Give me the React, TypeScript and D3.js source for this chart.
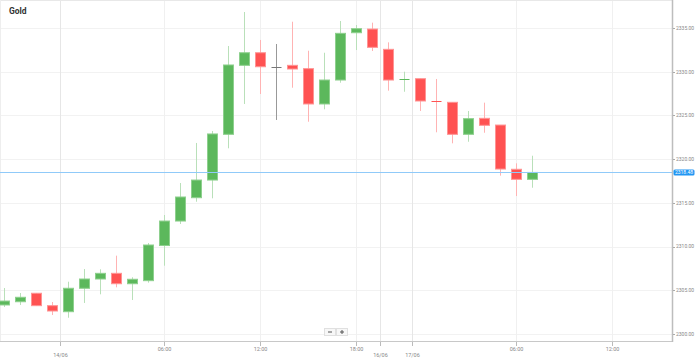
import React from "react";
import * as d3 from "d3";

const title = "Gold";
const opens = [2303.32, 2303.69, 2304.66, 2303.24, 2302.55, 2305.23, 2306.29, 2306.94, 2305.75, 2306.10, 2310.12, 2312.92, 2315.59, 2317.61, 2322.84, 2330.73, 2332.17, 2330.50, 2330.73, 2330.35, 2326.31, 2329.05, 2334.46, 2334.88, 2332.56, 2329.10, 2329.20, 2326.65, 2326.50, 2322.84, 2324.67, 2323.90, 2318.84, 2317.69];
const highs = [2305.26, 2304.69, 2304.69, 2303.66, 2305.98, 2307.43, 2307.40, 2308.96, 2306.49, 2310.41, 2313.61, 2317.27, 2321.85, 2323.22, 2332.94, 2336.83, 2333.63, 2333.17, 2335.72, 2332.40, 2332.17, 2335.80, 2335.34, 2335.61, 2333.36, 2330.00, 2329.20, 2329.17, 2326.50, 2325.51, 2326.46, 2323.90, 2319.52, 2320.39];
const lows = [2303.09, 2303.32, 2303.20, 2302.17, 2301.86, 2303.55, 2304.54, 2305.34, 2303.89, 2305.87, 2307.81, 2312.58, 2315.13, 2315.52, 2321.24, 2326.31, 2327.45, 2324.48, 2328.17, 2324.28, 2325.70, 2328.74, 2332.48, 2332.37, 2327.83, 2327.71, 2325.51, 2323.07, 2321.81, 2321.99, 2323.02, 2318.11, 2315.78, 2316.73];
const closes = [2303.77, 2304.20, 2303.24, 2302.63, 2305.23, 2306.29, 2306.94, 2305.75, 2306.26, 2310.18, 2312.92, 2315.67, 2317.61, 2322.88, 2330.77, 2332.17, 2330.57, 2330.50, 2330.31, 2326.31, 2329.05, 2334.39, 2334.92, 2332.79, 2329.05, 2329.13, 2326.65, 2326.57, 2322.84, 2324.63, 2323.87, 2318.87, 2317.69, 2318.48];

const yTicks = [2300, 2305, 2310, 2315, 2320, 2325, 2330, 2335];
const xTickPos = [3.5, 10, 16, 22, 23.5, 25.5, 32, 38];
const xTickLabels = ["14/06", "06:00", "12:00", "18:00", "16/06", "17/06", "06:00", "12:00"];
const xTickIsDate = [true, false, false, false, true, true, false, false];
const currentPrice = 2318.48;

const W = 698;
const H = 361;
const plotRight = 672;
const plotBottom = 341;

export default function App() {
  const x = d3.scaleLinear().domain([-0.25, 41.75]).range([0, plotRight]);
  const y = d3.scaleLinear().domain([2300, 2335]).range([334, 28]);
  const bodyW = 10;
  const font = "Roboto, 'Noto Sans', Arial, sans-serif";

  const candles = opens.map((o, i) => {
    const c = closes[i];
    const cx = Math.round(x(i)) + 0.5;
    const diff = Math.abs(c - o);
    const doji = diff < 0.1;
    const up = c > o;
    const gray = doji && Math.abs(c - o) < 0.005;
    let fill = up ? "#5cb85c" : "#ff5252";
    let stroke = up ? "#8ed08e" : "#ff9494";
    let wick = up ? "#b9e0b9" : "#ffb3b3";
    if (gray) {
      fill = "#777";
      stroke = "#777";
      wick = "#999";
    }
    const yTop = y(Math.max(o, c));
    const yBot = y(Math.min(o, c));
    return (
      <g key={i}>
        <line x1={cx} x2={cx} y1={y(highs[i])} y2={y(lows[i])} stroke={wick} strokeWidth={1} />
        {doji ? (
          <line x1={cx - bodyW / 2} x2={cx + bodyW / 2} y1={Math.round((yTop + yBot) / 2) + 0.5} y2={Math.round((yTop + yBot) / 2) + 0.5} stroke={gray ? "#777" : (up ? "#5cb85c" : "#ff5252")} strokeWidth={1} />
        ) : (
          <rect x={cx - bodyW / 2} y={yTop} width={bodyW} height={Math.max(1, yBot - yTop)} fill={fill} stroke={stroke} strokeWidth={1} />
        )}
      </g>
    );
  });

  const py = Math.round(y(currentPrice)) + 0.5;

  return (
    <svg width={W} height={H} style={{ position: "absolute", left: 0, top: 0, background: "#fff" }} fontFamily={font}>
      <rect x={0} y={0} width={W} height={H} fill="#fff" />
      {/* horizontal gridlines */}
      {yTicks.map((t) => (
        <line key={"hg" + t} x1={0} x2={plotRight} y1={Math.round(y(t)) + 0.5} y2={Math.round(y(t)) + 0.5} stroke="#f2f2f2" />
      ))}
      {/* vertical gridlines */}
      {xTickPos.map((p, i) => (
        <line key={"vg" + i} x1={Math.round(x(p)) + 0.5} x2={Math.round(x(p)) + 0.5} y1={0} y2={plotBottom} stroke={xTickIsDate[i] ? "#e6e6e6" : "#f0f0f0"} />
      ))}
      {/* top border */}
      <line x1={0} x2={plotRight} y1={0.5} y2={0.5} stroke="#e8e8e8" />
      <line x1={0.5} x2={0.5} y1={0} y2={plotBottom} stroke="#eeeeee" />
      {/* title */}
      <text x={9} y={14} fontSize={8.5} fontWeight="bold" fill="#333">{title}</text>
      {/* candles */}
      {candles}
      {/* price line */}
      <line x1={0} x2={plotRight} y1={py} y2={py} stroke="#90caf9" strokeWidth={1} />
      {/* axes */}
      <line x1={0} x2={plotRight} y1={plotBottom + 0.5} y2={plotBottom + 0.5} stroke="#c8c8c8" />
      <line x1={plotRight + 0.5} x2={plotRight + 0.5} y1={0} y2={plotBottom + 1} stroke="#bdbdbd" strokeWidth={1.5} />
      {yTicks.map((t) => (
        <g key={"yt" + t}>
          <line x1={plotRight + 1} x2={plotRight + 3} y1={Math.round(y(t)) + 0.5} y2={Math.round(y(t)) + 0.5} stroke="#aaa" />
          <text x={676} y={y(t) + 1.8} fontSize={5} fill="#888">{t.toFixed(2)}</text>
        </g>
      ))}
      {xTickPos.map((p, i) => {
        const tx = Math.round(x(p)) + 0.5;
        return (
          <g key={"xt" + i}>
            <line x1={tx} x2={tx} y1={plotBottom + 1} y2={plotBottom + 5} stroke="#bbb" />
            <text x={tx} y={xTickIsDate[i] ? 356.5 : 350.5} fontSize={5.5} fill="#888" textAnchor="middle">{xTickLabels[i]}</text>
          </g>
        );
      })}
      {/* current price label */}
      <rect x={673.5} y={py - 3} width={21} height={6} rx={1.5} fill="#2196f3" />
      <text x={684} y={py + 1.8} fontSize={5} fill="#fff" textAnchor="middle">{currentPrice.toFixed(2)}</text>
      {/* zoom buttons */}
      <g>
        <rect x={324.5} y={328.5} width={11} height={7} fill="#f7f7f7" stroke="#e0e0e0" />
        <rect x={336.5} y={328.5} width={11} height={7} fill="#f7f7f7" stroke="#e0e0e0" />
        <line x1={328} x2={332} y1={332} y2={332} stroke="#555" />
        <line x1={340} x2={344} y1={332} y2={332} stroke="#555" />
        <line x1={342} x2={342} y1={330} y2={334} stroke="#555" />
      </g>
    </svg>
  );
}
